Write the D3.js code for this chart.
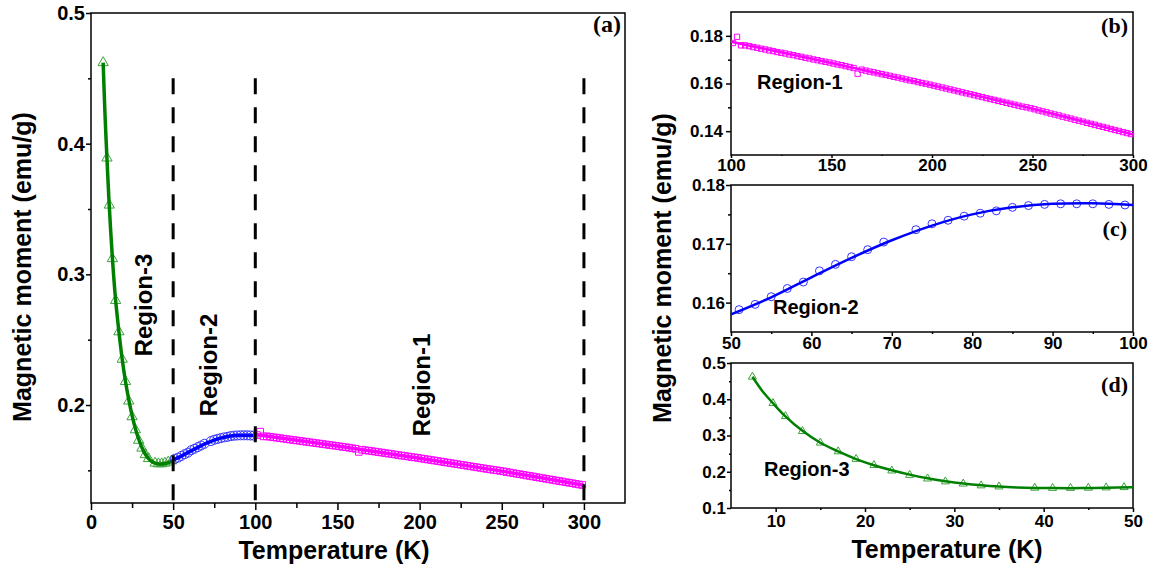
<!DOCTYPE html>
<html>
<head>
<meta charset="utf-8">
<script src="https://cdn.jsdelivr.net/npm/d3@7/dist/d3.min.js"></script>
<style>
  body { margin: 0; background: #fff; }
  svg text { font-family: "Liberation Sans", Arial, sans-serif; font-weight: bold; fill: #000; }
  .tag { font-family: "Liberation Serif", "Times New Roman", serif; }
</style>
</head>
<body>
<svg id="fig" width="1150" height="570"></svg>
<script>
"use strict";

/* ── Data ─────────────────────────────────────────────────── */
// Region-3 : green triangles, T (K) / moment (emu/g)
const region3T = [7.4, 9.7, 11.1, 13, 15, 17, 19, 21, 23, 25, 27, 29, 31, 33, 35, 39, 41, 43, 45, 47, 49];
const region3M = [0.462, 0.389, 0.353, 0.312, 0.280, 0.256, 0.235, 0.218, 0.203, 0.191, 0.181,
                  0.173, 0.167, 0.162, 0.159, 0.1555, 0.155, 0.155, 0.1555, 0.1563, 0.1572];
const region3FitT = [7.4, 8.5, 9.7, 11, 13, 15, 17, 19, 21, 23, 25, 27, 29, 31, 33, 35, 37, 39, 41, 43, 45, 47, 50];
const region3FitM = [0.462, 0.423, 0.389, 0.355, 0.313, 0.280, 0.256, 0.235, 0.218, 0.204, 0.192, 0.182,
                     0.174, 0.1675, 0.1625, 0.159, 0.1568, 0.1555, 0.1549, 0.1548, 0.1552, 0.156, 0.1575];

// Region-2 : blue circles
const region2T = [51, 53, 55, 57, 59, 61, 63, 65, 67, 69, 73, 75, 77, 79, 81, 83, 85, 87, 89, 91, 93, 95, 97, 99];
const region2M = [0.1588, 0.1597, 0.1610, 0.1624, 0.1635, 0.1654, 0.1665, 0.1678, 0.1690, 0.1703, 0.1724, 0.1734,
                  0.1740, 0.1747, 0.1752, 0.1756, 0.1762, 0.1765, 0.1767, 0.1768, 0.1768, 0.1768, 0.1767, 0.1766];
const region2FitT = [50, 55, 60, 65, 70, 75, 80, 85, 90, 95, 100];
const region2FitM = [0.1580, 0.1609, 0.1643, 0.1676, 0.1706, 0.1731, 0.1750, 0.1762, 0.1768, 0.1769, 0.1766];

// Region-1 : magenta squares
const region1T = [
  101, 103, 105, 107, 109, 111, 113, 115, 117, 119, 121, 123, 125, 127, 129, 131, 133, 135, 137, 139,
  141, 143, 145, 147, 149, 151, 153, 155, 157, 159, 161, 163, 165, 167, 169, 171, 173, 175, 177, 179,
  181, 183, 185, 187, 189, 191, 193, 195, 197, 199, 201, 203, 205, 207, 209, 211, 213, 215, 217, 219,
  221, 223, 225, 227, 229, 231, 233, 235, 237, 239, 241, 243, 245, 247, 249, 251, 253, 255, 257, 259,
  261, 263, 265, 267, 269, 271, 273, 275, 277, 279, 281, 283, 285, 287, 289, 291, 293, 295, 297, 299];
const region1M = [
  0.1770, 0.1796, 0.1760, 0.1760, 0.1757, 0.1753, 0.1750, 0.1746, 0.1743, 0.1739,
  0.1736, 0.1732, 0.1729, 0.1726, 0.1722, 0.1719, 0.1715, 0.1712, 0.1708, 0.1705,
  0.1701, 0.1698, 0.1694, 0.1691, 0.1688, 0.1684, 0.1680, 0.1677, 0.1673, 0.1669,
  0.1665, 0.1641, 0.1658, 0.1654, 0.1650, 0.1647, 0.1643, 0.1639, 0.1636, 0.1632,
  0.1628, 0.1625, 0.1621, 0.1617, 0.1613, 0.1610, 0.1606, 0.1602, 0.1599, 0.1595,
  0.1591, 0.1587, 0.1583, 0.1579, 0.1575, 0.1571, 0.1567, 0.1563, 0.1559, 0.1555,
  0.1551, 0.1547, 0.1543, 0.1539, 0.1535, 0.1531, 0.1527, 0.1523, 0.1519, 0.1515,
  0.1511, 0.1507, 0.1503, 0.1500, 0.1496, 0.1492, 0.1487, 0.1483, 0.1479, 0.1474,
  0.1470, 0.1466, 0.1461, 0.1457, 0.1453, 0.1448, 0.1444, 0.1440, 0.1435, 0.1431,
  0.1427, 0.1422, 0.1418, 0.1414, 0.1409, 0.1405, 0.1401, 0.1396, 0.1392, 0.1388];
const region1FitT = [100, 150, 200, 250, 300];
const region1FitM = [0.1775, 0.1686, 0.1593, 0.1494, 0.1386];

const boundaryT = [50, 100, 300];

/* ── Colours ──────────────────────────────────────────────── */
const GREEN_LINE = "#008000", GREEN_MARK = "#3aa33a";
const BLUE_LINE = "#0000ff",  BLUE_MARK = "#3535ff";
const MAG = "#ff00ff";

const zip = (a, b) => a.map((v, i) => [v, b[i]]);
const svg = d3.select("#fig");

/* ── Generic panel builder ────────────────────────────────── */
function panel(o) {
  const x = d3.scaleLinear().domain(o.xDom).range([o.left, o.right]);
  const y = d3.scaleLinear().domain(o.yDom).range([o.bottom, o.top]);
  const g = svg.append("g");
  const axes = g.append("g");

  // minor ticks
  axes.append("g").attr("transform", `translate(0,${o.bottom})`)
    .call(d3.axisBottom(x).tickValues(o.xMinor).tickSize(o.xTick[0] - 2).tickFormat(""));
  axes.append("g").attr("transform", `translate(${o.left},0)`)
    .call(d3.axisLeft(y).tickValues(o.yMinor).tickSize(o.yTick[0] - 2).tickFormat(""));
  // major ticks
  axes.append("g").attr("transform", `translate(0,${o.bottom})`)
    .call(d3.axisBottom(x).tickValues(o.xMajor).tickSize(o.xTick[0]).tickPadding(o.xTick[1]).tickFormat(d3.format("d")));
  axes.append("g").attr("transform", `translate(${o.left},0)`)
    .call(d3.axisLeft(y).tickValues(o.yMajor).tickSize(o.yTick[0]).tickPadding(o.yTick[1]).tickFormat(d3.format(o.yFmt)));

  axes.selectAll(".domain").remove();
  axes.selectAll("line").attr("stroke", "#000").attr("stroke-width", 1.5);
  axes.selectAll("text").attr("font-size", o.fs).attr("fill", "#000");

  g.append("rect")
    .attr("x", o.left).attr("y", o.top)
    .attr("width", o.right - o.left).attr("height", o.bottom - o.top)
    .attr("fill", "none").attr("stroke", "#000").attr("stroke-width", 1.5);

  const clip = "clip" + o.tag;
  svg.append("clipPath").attr("id", clip).append("rect")
    .attr("x", o.left).attr("y", o.top - 6)
    .attr("width", o.right - o.left + 6).attr("height", o.bottom - o.top + 6);
  const plot = g.append("g").attr("clip-path", `url(#${clip})`);

  g.append("text").attr("class", "tag")
    .attr("x", o.tagPos[0]).attr("y", o.tagPos[1])
    .attr("text-anchor", "end").attr("font-size", o.tagSize)
    .text(`(${o.tag})`);

  return { x, y, g, plot };
}

function drawSeries(p, pts, fit, shape, size, markColor, lineColor, lineW) {
  p.plot.append("g").selectAll("path")
    .data(pts).join("path")
    .attr("transform", (d) => `translate(${p.x(d[0])},${p.y(d[1])})`)
    .attr("d", d3.symbol(shape, size)())
    .attr("fill", "none").attr("stroke", markColor).attr("stroke-width", 1);

  const line = d3.line().x((d) => p.x(d[0])).y((d) => p.y(d[1])).curve(d3.curveCatmullRom);
  p.plot.append("path").datum(fit)
    .attr("d", line)
    .attr("fill", "none").attr("stroke", lineColor).attr("stroke-width", lineW);
}

const r3 = zip(region3T, region3M), r3fit = zip(region3FitT, region3FitM);
const r2 = zip(region2T, region2M), r2fit = zip(region2FitT, region2FitM);
const r1 = zip(region1T, region1M), r1fit = zip(region1FitT, region1FitM);

/* ── Panel (a): full range ────────────────────────────────── */
const pa = panel({
  tag: "a", left: 91, right: 625, top: 13, bottom: 503,
  xDom: [0, 325], yDom: [0.125, 0.5],
  xMajor: [0, 50, 100, 150, 200, 250, 300], xMinor: [25, 75, 125, 175, 225, 275],
  yMajor: [0.2, 0.3, 0.4, 0.5], yMinor: [0.15, 0.25, 0.35, 0.45],
  xTick: [7, 5], yTick: [5, 1], yFmt: ".1f", fs: 20,
  tagPos: [621, 32], tagSize: 24
});

pa.g.append("g").selectAll("line")
  .data(boundaryT).join("line")
  .attr("x1", (d) => pa.x(d)).attr("x2", (d) => pa.x(d))
  .attr("y1", pa.y(0.45)).attr("y2", pa.y(0.125))
  .attr("stroke", "#000").attr("stroke-width", 3)
  .attr("stroke-dasharray", "16,13");

drawSeries(pa, r3, r3fit, d3.symbolTriangle, 46, GREEN_MARK, GREEN_LINE, 3.5);
drawSeries(pa, r2, r2fit, d3.symbolCircle, 64, BLUE_MARK, BLUE_LINE, 3.5);
drawSeries(pa, r1, r1fit, d3.symbolSquare, 44, MAG, MAG, 3.5);

[["Region-3", 152, 305], ["Region-2", 217, 365], ["Region-1", 430, 385]].forEach(([t, x, y]) => {
  pa.g.append("text")
    .attr("transform", `translate(${x},${y}) rotate(-90)`)
    .attr("text-anchor", "middle").attr("font-size", 24).text(t);
});

svg.append("text")
  .attr("transform", "translate(31,267) rotate(-90)")
  .attr("text-anchor", "middle").attr("font-size", 25)
  .text("Magnetic moment (emu/g)");
svg.append("text")
  .attr("x", 334).attr("y", 559).attr("text-anchor", "middle").attr("font-size", 25)
  .text("Temperature (K)");

/* ── Panel (b): Region-1 ──────────────────────────────────── */
const pb = panel({
  tag: "b", left: 731, right: 1133, top: 12, bottom: 155,
  xDom: [100, 300], yDom: [0.13, 0.19],
  xMajor: [100, 150, 200, 250, 300], xMinor: [125, 175, 225, 275],
  yMajor: [0.14, 0.16, 0.18], yMinor: [0.15, 0.17],
  xTick: [3, 1], yTick: [5, 3], yFmt: ".2f", fs: 17,
  tagPos: [1128, 33], tagSize: 22
});
drawSeries(pb, r1, r1fit, d3.symbolSquare, 28, MAG, MAG, 2.5);
pb.g.append("text").attr("x", 757).attr("y", 89).attr("font-size", 20).text("Region-1");

/* ── Panel (c): Region-2 ──────────────────────────────────── */
const pc = panel({
  tag: "c", left: 731, right: 1133, top: 185, bottom: 332,
  xDom: [50, 100], yDom: [0.155, 0.18],
  xMajor: [50, 60, 70, 80, 90, 100], xMinor: [55, 65, 75, 85, 95],
  yMajor: [0.16, 0.17, 0.18], yMinor: [0.165, 0.175],
  xTick: [4, 1], yTick: [5, 1], yFmt: ".2f", fs: 17,
  tagPos: [1127, 236], tagSize: 22
});
drawSeries(pc, r2, r2fit, d3.symbolCircle, 50, BLUE_MARK, BLUE_LINE, 2.5);
pc.g.append("text").attr("x", 773).attr("y", 314).attr("font-size", 20).text("Region-2");

/* ── Panel (d): Region-3 ──────────────────────────────────── */
const pd = panel({
  tag: "d", left: 731, right: 1133, top: 363, bottom: 508,
  xDom: [5, 50], yDom: [0.1, 0.5],
  xMajor: [10, 20, 30, 40, 50], xMinor: [15, 25, 35, 45],
  yMajor: [0.1, 0.2, 0.3, 0.4, 0.5], yMinor: [0.15, 0.25, 0.35, 0.45],
  xTick: [4, 3], yTick: [4, 1], yFmt: ".1f", fs: 17,
  tagPos: [1128, 392], tagSize: 22
});
drawSeries(pd, r3, r3fit, d3.symbolTriangle, 28, GREEN_MARK, GREEN_LINE, 2.5);
pd.g.append("text").attr("x", 764).attr("y", 476).attr("font-size", 20).text("Region-3");

svg.append("text")
  .attr("transform", "translate(671,268) rotate(-90)")
  .attr("text-anchor", "middle").attr("font-size", 25)
  .text("Magnetic moment (emu/g)");
svg.append("text")
  .attr("x", 947).attr("y", 558).attr("text-anchor", "middle").attr("font-size", 25)
  .text("Temperature (K)");
</script>
</body>
</html>
